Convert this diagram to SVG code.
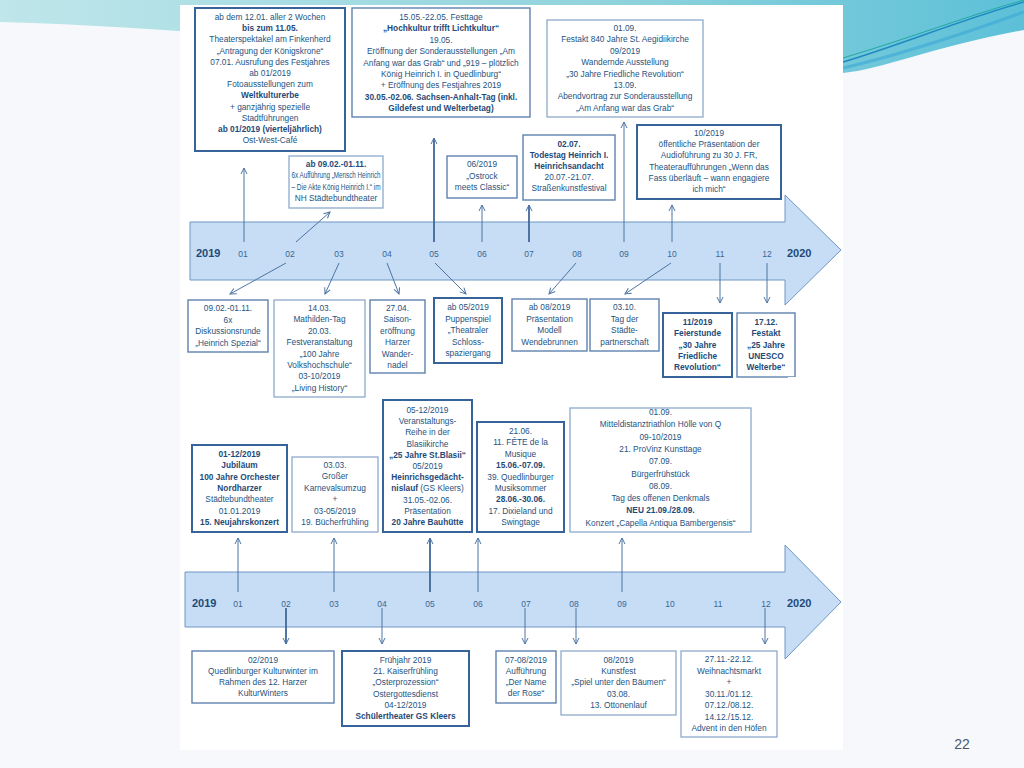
<svg xmlns="http://www.w3.org/2000/svg" width="1024" height="768" viewBox="0 0 1024 768">
<defs>
<linearGradient id="wave" x1="0" y1="0" x2="1" y2="0">
<stop offset="0" stop-color="#bfe6ea"/>
<stop offset="0.6" stop-color="#8fd3dc"/>
<stop offset="1" stop-color="#5cc0d8"/>
</linearGradient>
<marker id="ah" markerWidth="8" markerHeight="8" refX="7" refY="4" orient="auto" markerUnits="userSpaceOnUse">
<path d="M1,1 L7,4 L1,7" fill="none" stroke="#4d74a4" stroke-width="1"/>
</marker>
<style>
.t{font-family:"Liberation Sans",Arial,sans-serif;font-size:8.3px;fill:#25537f;text-anchor:middle}
.b{font-weight:bold;fill:#1f4a78}
.m{font-family:"Liberation Sans",Arial,sans-serif;font-size:8.5px;fill:#3a6796;text-anchor:middle}
.y{font-family:"Liberation Sans",Arial,sans-serif;font-size:11px;font-weight:bold;fill:#1f4a78}
.bx{fill:#fff;stroke:#5f82ae;stroke-width:1.4}
.bd{fill:#fff;stroke:#35639a;stroke-width:2}
.bl{fill:#fff;stroke:#8eaacb;stroke-width:1.3}
.ar{fill:#c6ddf5;stroke:#6f98c4;stroke-width:1}
.c{fill:none;stroke:#4d74a4;stroke-width:1;marker-end:url(#ah)}
.ck{fill:none;stroke:#3f6899;stroke-width:1.8;marker-end:url(#ah)}
</style>
</defs>
<rect width="1024" height="768" fill="#f6f8fb"/>
<path d="M0,0 H1024 V30 C940,45 880,70 843,73 C600,80 300,30 0,22 Z" fill="url(#wave)"/>
<path d="M843,62 C900,45 960,20 1024,2" fill="none" stroke="#1f8ac2" stroke-width="1.5"/>
<path d="M843,58 C910,38 970,15 1024,0" fill="none" stroke="#21a9a4" stroke-width="1"/>
<path d="M843,68 C900,55 960,35 1024,12" fill="none" stroke="#3aa6d6" stroke-width="3" opacity="0.6"/>
<rect x="180" y="5" width="663" height="745" fill="#ffffff"/>

<g id="timeline-1">
<path class="ar" d="M190,222 H785 V195 L841,250 L785,305 V280 H190 Z"/>
<text class="y" x="196" y="257">2019</text>
<text class="y" x="787" y="257">2020</text>
<text class="m" x="243" y="257">01</text><text class="m" x="290" y="257">02</text><text class="m" x="339" y="257">03</text><text class="m" x="387" y="257">04</text><text class="m" x="434" y="257">05</text><text class="m" x="482" y="257">06</text><text class="m" x="529" y="257">07</text><text class="m" x="577" y="257">08</text><text class="m" x="624" y="257">09</text><text class="m" x="672" y="257">10</text><text class="m" x="720" y="257">11</text><text class="m" x="767" y="257">12</text>
</g>

<g id="timeline-2">
<path class="ar" d="M185,572 H785 V545 L841,602 L785,659 V627 H185 Z"/>
<text class="y" x="192" y="607">2019</text>
<text class="y" x="787" y="607">2020</text>
<text class="m" x="238" y="607">01</text><text class="m" x="286" y="607">02</text><text class="m" x="334" y="607">03</text><text class="m" x="382" y="607">04</text><text class="m" x="430" y="607">05</text><text class="m" x="478" y="607">06</text><text class="m" x="526" y="607">07</text><text class="m" x="574" y="607">08</text><text class="m" x="622" y="607">09</text><text class="m" x="670" y="607">10</text><text class="m" x="718" y="607">11</text><text class="m" x="766" y="607">12</text>
</g>

<g id="connectors">
<path class="c" d="M244,242 V168"/>
<path class="c" d="M296,242 L330,212"/>
<path class="ck" d="M434,242 V138"/>
<path class="c" d="M482,242 V205"/>
<path class="ck" d="M529,242 V205"/>
<path class="c" d="M624,242 V122"/>
<path class="c" d="M672,242 V205"/>
<path class="c" d="M286,263 L230,294"/>
<path class="c" d="M339,263 L325,294"/>
<path class="c" d="M387,263 L399,294"/>
<path class="c" d="M435,263 L466,294"/>
<path class="c" d="M576,263 L549,294"/>
<path class="c" d="M671,263 L625,294"/>
<path class="c" d="M720,263 V303"/>
<path class="c" d="M767,263 V303"/>
<path class="c" d="M238,592 V538"/>
<path class="c" d="M334,592 V538"/>
<path class="ck" d="M430,592 V538"/>
<path class="c" d="M478,592 V538"/>
<path class="c" d="M622,592 V538"/>
<path class="ck" d="M286,608 V644"/>
<path class="c" d="M382,608 V644"/>
<path class="c" d="M525,608 V644"/>
<path class="c" d="M576,608 V644"/>
<path class="c" d="M765,608 V644"/>
</g>

<g id="box-a">
<rect class="bd" x="195" y="8" width="150" height="143"/>
<text class="t" x="270" y="20">ab dem 12.01. aller 2 Wochen</text>
<text class="t b" x="270" y="31.2">bis zum 11.05.</text>
<text class="t" x="270" y="42.4">Theaterspektakel am Finkenherd</text>
<text class="t" x="270" y="53.6">„Antragung der Königskrone“</text>
<text class="t" x="270" y="64.8">07.01. Ausrufung des Festjahres</text>
<text class="t" x="270" y="76">ab 01/2019</text>
<text class="t" x="270" y="87.2">Fotoausstellungen zum</text>
<text class="t b" x="270" y="98.4">Weltkulturerbe</text>
<text class="t" x="270" y="109.6">+ ganzjährig spezielle</text>
<text class="t" x="270" y="120.8">Stadtführungen</text>
<text class="t b" x="270" y="132">ab 01/2019 (vierteljährlich)</text>
<text class="t" x="270" y="143.2">Ost-West-Café</text>
</g>

<g id="box-b">
<rect class="bx" x="352" y="8" width="178" height="109"/>
<text class="t" x="441" y="20">15.05.-22.05. Festtage</text>
<text class="t b" x="441" y="31.4">„Hochkultur trifft Lichtkultur“</text>
<text class="t" x="441" y="42.8">19.05.</text>
<text class="t" x="441" y="54.2">Eröffnung der Sonderausstellungen „Am</text>
<text class="t" x="441" y="65.6">Anfang war das Grab“ und „919 – plötzlich</text>
<text class="t" x="441" y="77">König Heinrich I. in Quedlinburg“</text>
<text class="t" x="441" y="88.4">+ Eröffnung des Festjahres 2019</text>
<text class="t b" x="441" y="99.8">30.05.-02.06. Sachsen-Anhalt-Tag (inkl.</text>
<text class="t b" x="441" y="111.2">Gildefest und Welterbetag)</text>
</g>

<g id="box-c">
<rect class="bl" x="547" y="20" width="156" height="97"/>
<text class="t" x="625" y="31">01.09.</text>
<text class="t" x="625" y="42.4">Festakt 840 Jahre St. Aegidiikirche</text>
<text class="t" x="625" y="53.8">09/2019</text>
<text class="t" x="625" y="65.2">Wandernde Ausstellung</text>
<text class="t" x="625" y="76.6">„30 Jahre Friedliche Revolution“</text>
<text class="t" x="625" y="88">13.09.</text>
<text class="t" x="625" y="99.4">Abendvortrag zur Sonderausstellung</text>
<text class="t" x="625" y="110.8">„Am Anfang war das Grab“</text>
</g>

<g id="box-e">
<rect class="bl" x="289" y="156" width="94" height="52"/>
<text class="t b" x="336" y="167">ab 09.02.-01.11.</text>
<text class="t" x="336" y="178.3" textLength="89" lengthAdjust="spacingAndGlyphs">6x Aufführung „Mensch Heinrich</text>
<text class="t" x="336" y="189.6" textLength="89" lengthAdjust="spacingAndGlyphs">– Die Akte König Heinrich I.“ im</text>
<text class="t" x="336" y="200.9">NH Städtebundtheater</text>
</g>

<g id="box-d">
<rect class="bx" x="447" y="156" width="70" height="42"/>
<text class="t" x="482" y="167">06/2019</text>
<text class="t" x="482" y="178.5">„Ostrock</text>
<text class="t" x="482" y="190">meets Classic“</text>
</g>

<g id="box-f">
<rect class="bx" x="523" y="135" width="92" height="65"/>
<text class="t b" x="569" y="147">02.07.</text>
<text class="t b" x="569" y="158">Todestag Heinrich I.</text>
<text class="t b" x="569" y="169">Heinrichsandacht</text>
<text class="t" x="569" y="180">20.07.-21.07.</text>
<text class="t" x="569" y="191">Straßenkunstfestival</text>
</g>

<g id="box-g">
<rect class="bd" x="637" y="125" width="144" height="74"/>
<text class="t" x="709" y="136">10/2019</text>
<text class="t" x="709" y="147.2">öffentliche Präsentation der</text>
<text class="t" x="709" y="158.4">Audioführung zu 30 J. FR,</text>
<text class="t" x="709" y="169.6">Theateraufführungen „Wenn das</text>
<text class="t" x="709" y="180.8">Fass überläuft – wann engagiere</text>
<text class="t" x="709" y="192">ich mich“</text>
</g>

<g id="box-h">
<rect class="bx" x="188" y="300" width="80" height="52"/>
<text class="t" x="228" y="311">09.02.-01.11.</text>
<text class="t" x="228" y="322.6">6x</text>
<text class="t" x="228" y="334.2">Diskussionsrunde</text>
<text class="t" x="228" y="345.8">„Heinrich Spezial“</text>
</g>

<g id="box-i">
<rect class="bl" x="274" y="300" width="91" height="97"/>
<text class="t" x="319.5" y="311">14.03.</text>
<text class="t" x="319.5" y="322.4">Mathilden-Tag</text>
<text class="t" x="319.5" y="333.8">20.03.</text>
<text class="t" x="319.5" y="345.2">Festveranstaltung</text>
<text class="t" x="319.5" y="356.6">„100 Jahre</text>
<text class="t" x="319.5" y="368">Volkshochschule“</text>
<text class="t" x="319.5" y="379.4">03-10/2019</text>
<text class="t" x="319.5" y="390.8">„Living History“</text>
</g>

<g id="box-j">
<rect class="bx" x="370" y="300" width="55" height="73"/>
<text class="t" x="397.5" y="311">27.04.</text>
<text class="t" x="397.5" y="322.4">Saison-</text>
<text class="t" x="397.5" y="333.8">eröffnung</text>
<text class="t" x="397.5" y="345.2">Harzer</text>
<text class="t" x="397.5" y="356.6">Wander-</text>
<text class="t" x="397.5" y="368">nadel</text>
</g>

<g id="box-k">
<rect class="bd" x="434" y="298" width="68" height="65"/>
<text class="t" x="468" y="310">ab 05/2019</text>
<text class="t" x="468" y="321.5">Puppenspiel</text>
<text class="t" x="468" y="333">„Theatraler</text>
<text class="t" x="468" y="344.5">Schloss-</text>
<text class="t" x="468" y="356">spaziergang</text>
</g>

<g id="box-l">
<rect class="bx" x="512" y="299" width="75" height="52"/>
<text class="t" x="549.5" y="310">ab 08/2019</text>
<text class="t" x="549.5" y="321.7">Präsentation</text>
<text class="t" x="549.5" y="333.4">Modell</text>
<text class="t" x="549.5" y="345.1">Wendebrunnen</text>
</g>

<g id="box-m">
<rect class="bx" x="590" y="299" width="69" height="52"/>
<text class="t" x="624.5" y="310">03.10.</text>
<text class="t" x="624.5" y="321.7">Tag der</text>
<text class="t" x="624.5" y="333.4">Städte-</text>
<text class="t" x="624.5" y="345.1">partnerschaft</text>
</g>

<g id="box-n">
<rect class="bd" x="663" y="313" width="69" height="64"/>
<text class="t b" x="697.5" y="325">11/2019</text>
<text class="t b" x="697.5" y="336.3">Feierstunde</text>
<text class="t b" x="697.5" y="347.6">„30 Jahre</text>
<text class="t b" x="697.5" y="358.9">Friedliche</text>
<text class="t b" x="697.5" y="370.2">Revolution“</text>
</g>

<g id="box-o">
<rect class="bx" x="737" y="313" width="58" height="64"/>
<text class="t b" x="766" y="325">17.12.</text>
<text class="t b" x="766" y="336.3">Festakt</text>
<text class="t b" x="766" y="347.6">„25 Jahre</text>
<text class="t b" x="766" y="358.9">UNESCO</text>
<text class="t b" x="766" y="370.2">Welterbe“</text>
</g>

<rect x="788" y="377" width="50" height="21" fill="#ffffff"/>

<g id="box-p">
<rect class="bd" x="192" y="445" width="95" height="87"/>
<text class="t b" x="239.5" y="457">01-12/2019</text>
<text class="t b" x="239.5" y="468.3">Jubiläum</text>
<text class="t b" x="239.5" y="479.6">100 Jahre Orchester</text>
<text class="t b" x="239.5" y="490.9">Nordharzer</text>
<text class="t" x="239.5" y="502.2">Städtebundtheater</text>
<text class="t" x="239.5" y="513.5">01.01.2019</text>
<text class="t b" x="239.5" y="524.8">15. Neujahrskonzert</text>
</g>

<g id="box-q">
<rect class="bl" x="292" y="457" width="86" height="75"/>
<text class="t" x="335" y="468">03.03.</text>
<text class="t" x="335" y="479.4">Großer</text>
<text class="t" x="335" y="490.8">Karnevalsumzug</text>
<text class="t" x="335" y="502.2">+</text>
<text class="t" x="335" y="513.6">03-05/2019</text>
<text class="t" x="335" y="525">19. Bücherfrühling</text>
</g>

<g id="box-r">
<rect class="bd" x="383" y="400" width="89" height="132"/>
<text class="t" x="427.5" y="413">05-12/2019</text>
<text class="t" x="427.5" y="424.2">Veranstaltungs-</text>
<text class="t" x="427.5" y="435.4">Reihe in der</text>
<text class="t" x="427.5" y="446.6">Blasiikirche</text>
<text class="t b" x="427.5" y="457.8">„25 Jahre St.Blasii“</text>
<text class="t" x="427.5" y="469">05/2019</text>
<text class="t b" x="427.5" y="480.2">Heinrichsgedächt-</text>
<text class="t" x="427.5" y="491.4"><tspan class="b">nislauf</tspan> (GS Kleers)</text>
<text class="t" x="427.5" y="502.6">31.05.-02.06.</text>
<text class="t" x="427.5" y="513.8">Präsentation</text>
<text class="t b" x="427.5" y="525">20 Jahre Bauhütte</text>
</g>

<g id="box-s">
<rect class="bd" x="477" y="422" width="87" height="110"/>
<text class="t" x="520.5" y="434">21.06.</text>
<text class="t" x="520.5" y="445.4">11. FÊTE de la</text>
<text class="t" x="520.5" y="456.8">Musique</text>
<text class="t b" x="520.5" y="468.2">15.06.-07.09.</text>
<text class="t" x="520.5" y="479.6">39. Quedlinburger</text>
<text class="t" x="520.5" y="491">Musiksommer</text>
<text class="t b" x="520.5" y="502.4">28.06.-30.06.</text>
<text class="t" x="520.5" y="513.8">17. Dixieland und</text>
<text class="t" x="520.5" y="525.2">Swingtage</text>
</g>

<g id="box-t">
<rect class="bl" x="570" y="408" width="181" height="124"/>
<text class="t" x="660.5" y="415">01.09.</text>
<text class="t" x="660.5" y="427.3">Mitteldistanztriathlon Hölle von Q</text>
<text class="t" x="660.5" y="439.6">09-10/2019</text>
<text class="t" x="660.5" y="451.9">21. ProVinz Kunsttage</text>
<text class="t" x="660.5" y="464.2">07.09.</text>
<text class="t" x="660.5" y="476.5">Bürgerfrühstück</text>
<text class="t" x="660.5" y="488.8">08.09.</text>
<text class="t" x="660.5" y="501.1">Tag des offenen Denkmals</text>
<text class="t b" x="660.5" y="513.4">NEU 21.09./28.09.</text>
<text class="t" x="660.5" y="525.7">Konzert „Capella Antiqua Bambergensis“</text>
</g>

<g id="box-u">
<rect class="bx" x="192" y="651" width="142" height="52"/>
<text class="t" x="263" y="663">02/2019</text>
<text class="t" x="263" y="674">Quedlinburger Kulturwinter im</text>
<text class="t" x="263" y="685">Rahmen des 12. Harzer</text>
<text class="t" x="263" y="696">KulturWinters</text>
</g>

<g id="box-v">
<rect class="bd" x="342" y="651" width="127" height="75"/>
<text class="t" x="405.5" y="663">Frühjahr 2019</text>
<text class="t" x="405.5" y="674.2">21. Kaiserfrühling</text>
<text class="t" x="405.5" y="685.4">„Osterprozession“</text>
<text class="t" x="405.5" y="696.6">Ostergottesdienst</text>
<text class="t" x="405.5" y="707.8">04-12/2019</text>
<text class="t b" x="405.5" y="719">Schülertheater GS Kleers</text>
</g>

<g id="box-w">
<rect class="bx" x="496" y="651" width="60" height="52"/>
<text class="t" x="526" y="663">07-08/2019</text>
<text class="t" x="526" y="674">Aufführung</text>
<text class="t" x="526" y="685">„Der Name</text>
<text class="t" x="526" y="696">der Rose“</text>
</g>

<g id="box-x">
<rect class="bl" x="561" y="651" width="115" height="64"/>
<text class="t" x="618.5" y="663">08/2019</text>
<text class="t" x="618.5" y="674.2">Kunstfest</text>
<text class="t" x="618.5" y="685.4">„Spiel unter den Bäumen“</text>
<text class="t" x="618.5" y="696.6">03.08.</text>
<text class="t" x="618.5" y="707.8">13. Ottonenlauf</text>
</g>

<g id="box-y">
<rect class="bl" x="681" y="651" width="96" height="86"/>
<text class="t" x="729" y="662">27.11.-22.12.</text>
<text class="t" x="729" y="673.5">Weihnachtsmarkt</text>
<text class="t" x="729" y="685">+</text>
<text class="t" x="729" y="696.5">30.11./01.12.</text>
<text class="t" x="729" y="708">07.12./08.12.</text>
<text class="t" x="729" y="719.5">14.12./15.12.</text>
<text class="t" x="729" y="731">Advent in den Höfen</text>
</g>

<text x="962" y="749" font-family="Liberation Sans, Arial, sans-serif" font-size="14" fill="#4a5a6a" text-anchor="middle">22</text>
</svg>
